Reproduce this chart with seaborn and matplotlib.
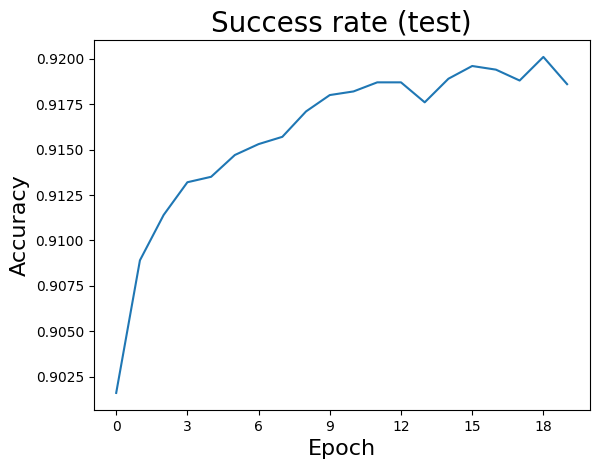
import numpy as np
import pandas as pd
import matplotlib
matplotlib.use('Agg')
import matplotlib.pyplot as plt
from matplotlib.ticker import MaxNLocator
import seaborn as sns

# Test accuracy per epoch
epochs = list(range(20))
accuracy = [0.9016, 0.9089, 0.9114, 0.9132, 0.9135, 0.9147, 0.9153, 0.9157,
            0.9171, 0.9180, 0.9182, 0.9187, 0.9187, 0.9176, 0.9189, 0.9196,
            0.9194, 0.9188, 0.9201, 0.9186]

df = pd.DataFrame({"Epoch": epochs, "Accuracy": accuracy})

fig, ax = plt.subplots(figsize=(6.4, 4.8))
sns.lineplot(data=df, x="Epoch", y="Accuracy", color="#1f77b4", ax=ax)

ax.xaxis.set_major_locator(MaxNLocator(integer=True))
ax.set_title("Success rate (test)", fontsize=20)
ax.set_xlabel("Epoch", fontsize=16)
ax.set_ylabel("Accuracy", fontsize=16)

plt.savefig("out.png", dpi=100, bbox_inches="tight")
plt.close()
